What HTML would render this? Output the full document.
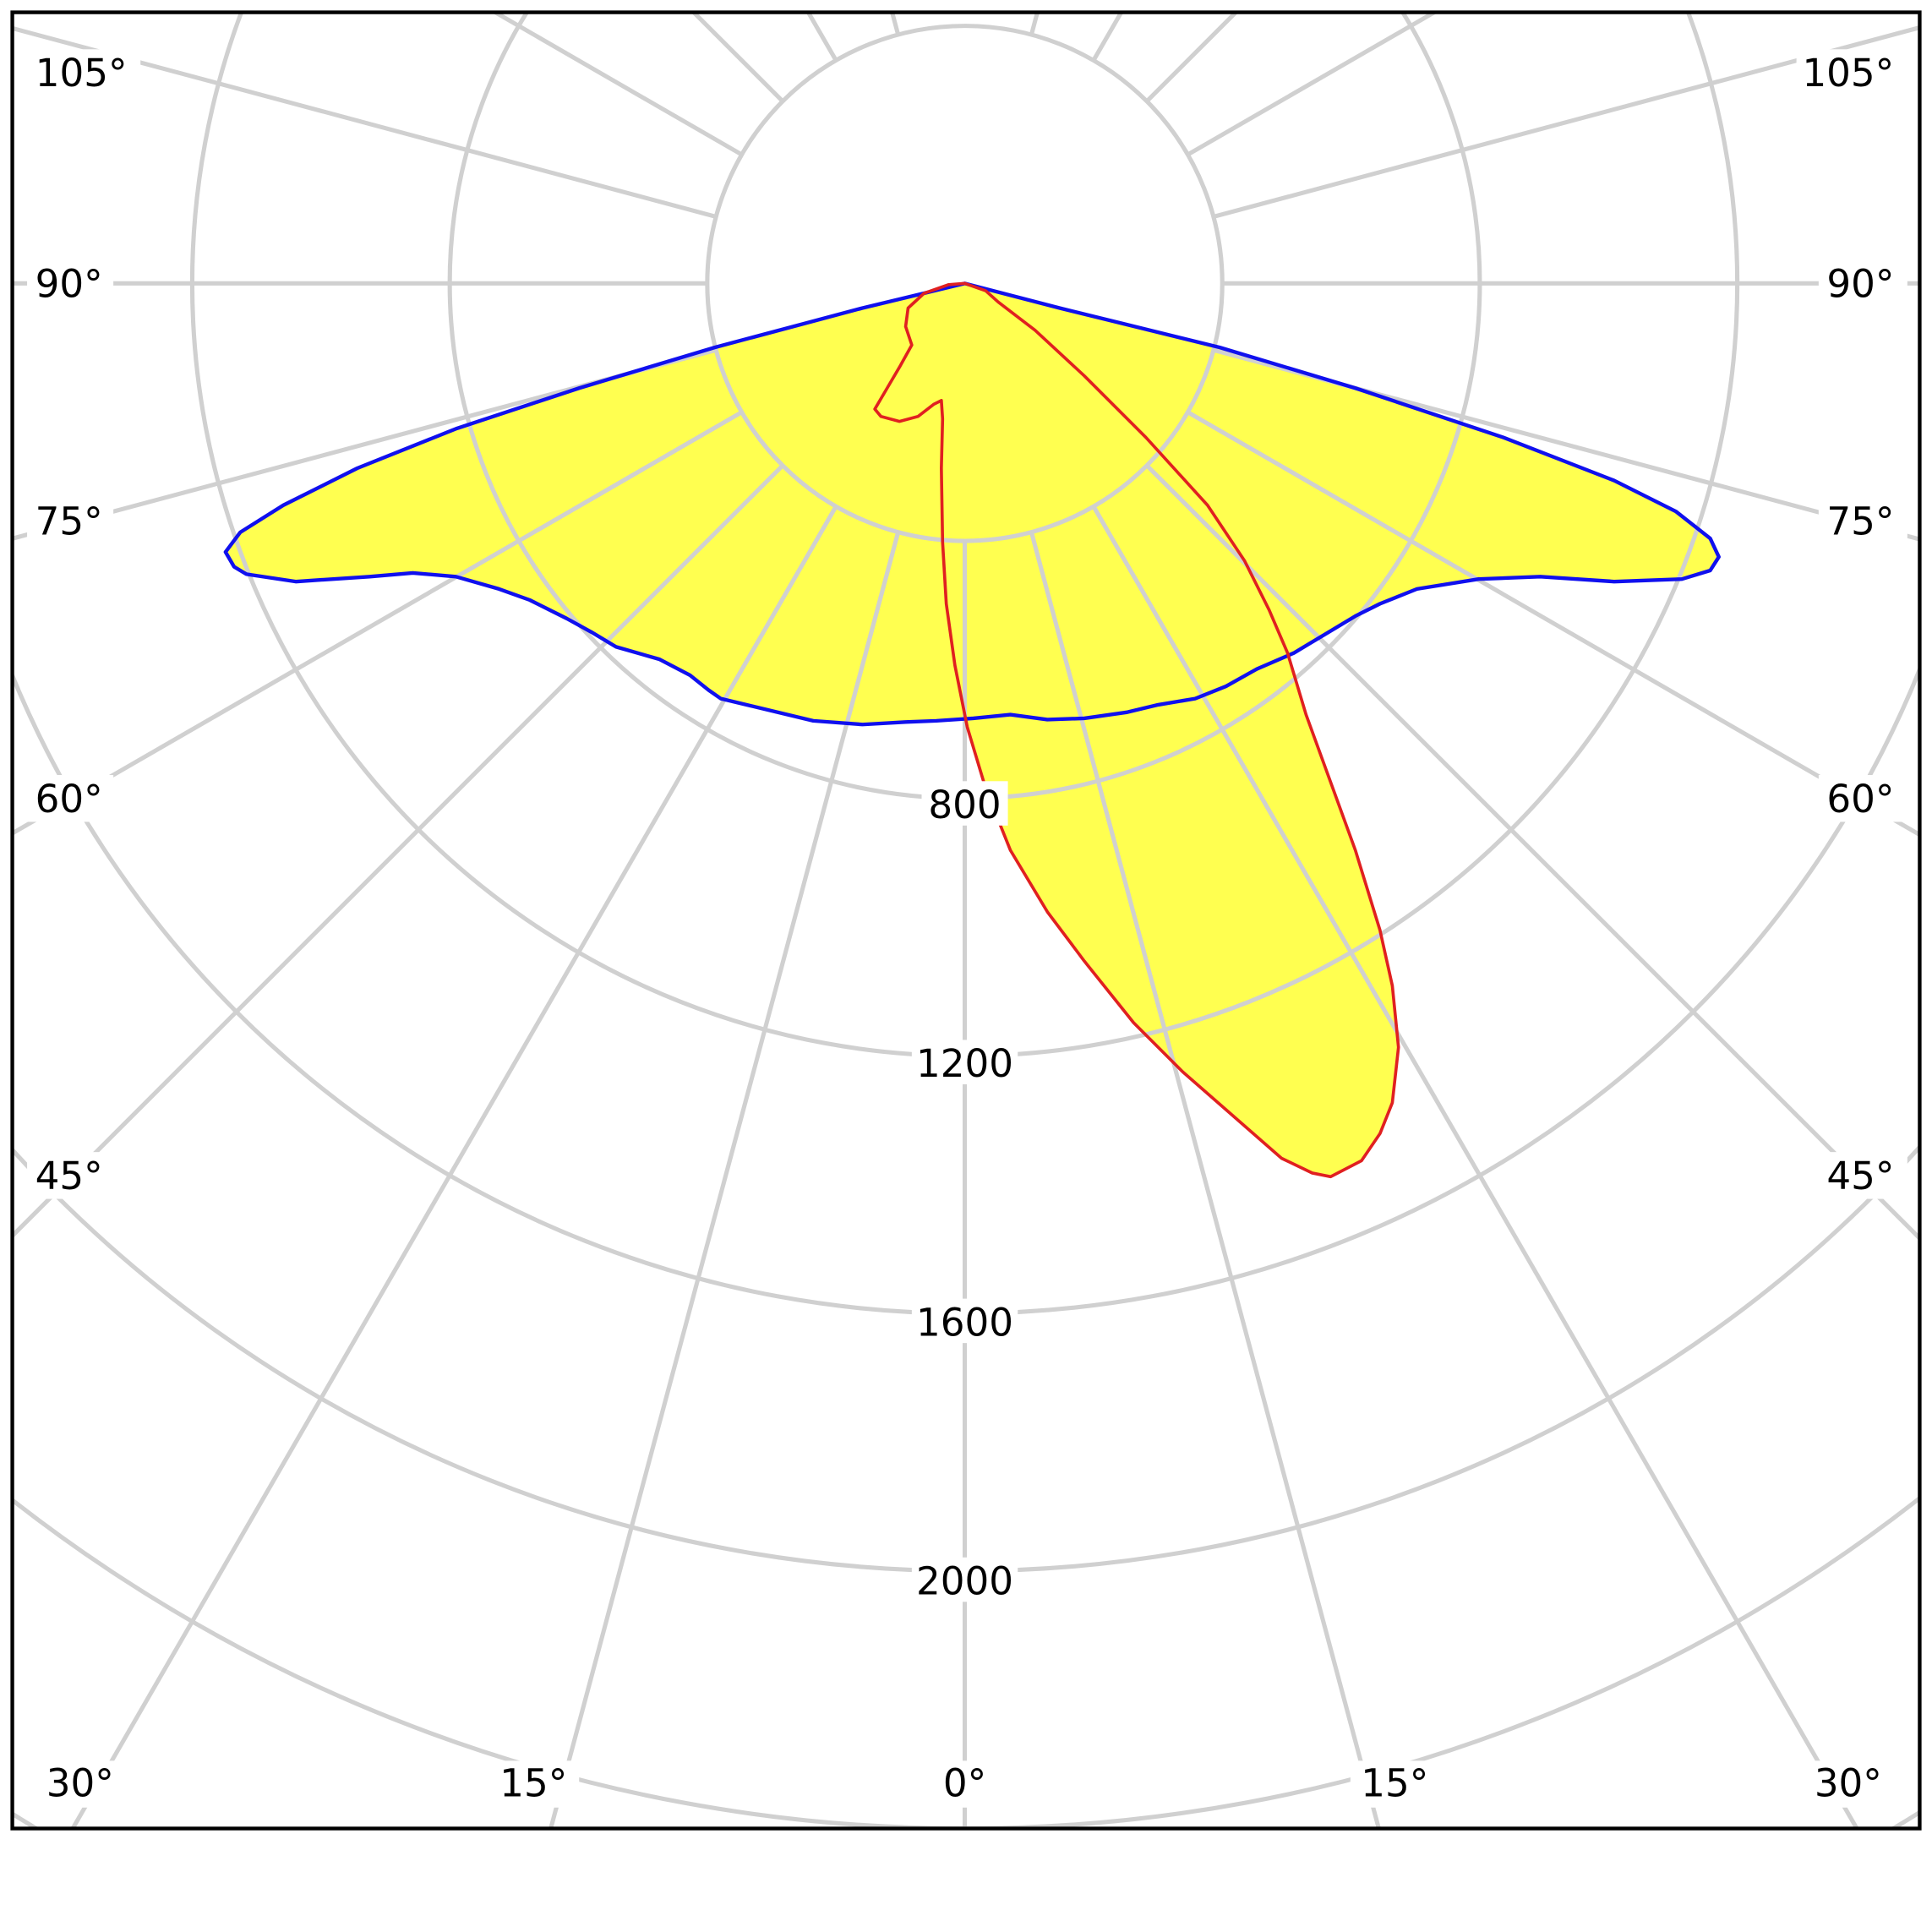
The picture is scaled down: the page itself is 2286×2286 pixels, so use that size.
<!DOCTYPE html>
<html><head><meta charset="utf-8"><style>html,body{margin:0;padding:0;background:#fff;overflow:hidden;width:2286px;height:2286px}svg{display:block}</style></head>
<body>
<svg width="2286" height="2286" viewBox="0 0 1568 1568" xmlns="http://www.w3.org/2000/svg" font-family="DejaVu Sans, Liberation Sans, sans-serif">
<defs><clipPath id="c"><rect x="10" y="10" width="1548" height="1474"/></clipPath></defs>
<rect width="1568" height="1568" fill="#fff"/>
<g fill="#ffff50" stroke="none">
<path id="b" d="M783,230 L860,250 990,282 1100,315 1220,355 1310,390 1360,415 1388,437 1395,452 1388,463 1365,470 1310,472 1250,468 1200,470 1150,478 1120,490 1100,500 1075,515 1050,530 1020,543 995,557 970,567 940,572 915,578 880,583 850,584 820,580 790,583 760,585 735,586 700,588 660,585 610,573 585,567 575,560 560,548 535,535 500,525 480,513 460,502 430,487 405,478 370,468 335,465 300,468 240,472 200,466 190,460 183,448 195,432 230,410 290,380 370,348 470,315 580,282 700,250 Z"/>
<path id="r" d="M783,230 L800,236 810,245 840,268 880,305 930,355 980,410 1010,455 1030,495 1045,530 1060,580 1080,635 1100,690 1120,755 1130,800 1135,850 1130,895 1120,920 1105,942 1080,955 1065,952 1040,940 1000,905 960,870 920,830 880,780 850,740 820,690 800,640 785,590 775,540 768,490 765,440 764,380 765,340 764,325 758,328 745,338 730,342 715,338 710,332 720,315 730,298 740,280 735,265 737,250 750,238 770,231 Z"/>
</g>
<g clip-path="url(#c)" stroke="#d0d0d0" stroke-width="3.5" fill="none">
<circle cx="783" cy="230" r="209"/>
<circle cx="783" cy="230" r="418"/>
<circle cx="783" cy="230" r="627"/>
<circle cx="783" cy="230" r="836"/>
<circle cx="783" cy="230" r="1045"/>
<circle cx="783" cy="230" r="1254"/>
<circle cx="783" cy="230" r="1463"/>
<line x1="783" y1="439" x2="783" y2="2000"/>
<line x1="783" y1="439" x2="783" y2="2000" transform="rotate(15 783 230)"/>
<line x1="783" y1="439" x2="783" y2="2000" transform="rotate(30 783 230)"/>
<line x1="783" y1="439" x2="783" y2="2000" transform="rotate(45 783 230)"/>
<line x1="783" y1="439" x2="783" y2="2000" transform="rotate(60 783 230)"/>
<line x1="783" y1="439" x2="783" y2="2000" transform="rotate(75 783 230)"/>
<line x1="783" y1="439" x2="783" y2="2000" transform="rotate(90 783 230)"/>
<line x1="783" y1="439" x2="783" y2="2000" transform="rotate(105 783 230)"/>
<line x1="783" y1="439" x2="783" y2="2000" transform="rotate(120 783 230)"/>
<line x1="783" y1="439" x2="783" y2="2000" transform="rotate(135 783 230)"/>
<line x1="783" y1="439" x2="783" y2="2000" transform="rotate(150 783 230)"/>
<line x1="783" y1="439" x2="783" y2="2000" transform="rotate(165 783 230)"/>
<line x1="783" y1="439" x2="783" y2="2000" transform="rotate(-15 783 230)"/>
<line x1="783" y1="439" x2="783" y2="2000" transform="rotate(-30 783 230)"/>
<line x1="783" y1="439" x2="783" y2="2000" transform="rotate(-45 783 230)"/>
<line x1="783" y1="439" x2="783" y2="2000" transform="rotate(-60 783 230)"/>
<line x1="783" y1="439" x2="783" y2="2000" transform="rotate(-75 783 230)"/>
<line x1="783" y1="439" x2="783" y2="2000" transform="rotate(-90 783 230)"/>
<line x1="783" y1="439" x2="783" y2="2000" transform="rotate(-105 783 230)"/>
<line x1="783" y1="439" x2="783" y2="2000" transform="rotate(-120 783 230)"/>
<line x1="783" y1="439" x2="783" y2="2000" transform="rotate(-135 783 230)"/>
<line x1="783" y1="439" x2="783" y2="2000" transform="rotate(-150 783 230)"/>
<line x1="783" y1="439" x2="783" y2="2000" transform="rotate(-165 783 230)"/>
</g>
<use href="#b" fill="none" stroke="#1010ee" stroke-width="3" stroke-linejoin="round"/>
<use href="#r" fill="none" stroke="#e02020" stroke-width="2.5" stroke-linejoin="round"/>
<g font-size="31" fill="#000" text-anchor="middle">
<g fill="#fff"><rect x="748" y="634" width="70" height="36"/><rect x="740" y="844" width="86" height="36"/><rect x="740" y="1054" width="86" height="36"/><rect x="740" y="1264" width="86" height="36"/></g>
<text x="783" y="664">800</text><text x="783" y="874">1200</text><text x="783" y="1084">1600</text><text x="783" y="1294">2000</text>
<g fill="#fff"><rect x="22" y="40" width="92" height="38"/><rect x="22" y="212" width="70" height="38"/><rect x="22" y="404" width="70" height="38"/><rect x="22" y="629" width="70" height="38"/><rect x="22" y="935" width="70" height="38"/>
<rect x="1458" y="40" width="92" height="38"/><rect x="1476" y="212" width="72" height="38"/><rect x="1476" y="404" width="72" height="38"/><rect x="1476" y="629" width="72" height="38"/><rect x="1476" y="935" width="72" height="38"/>
<rect x="30" y="1429" width="70" height="38"/><rect x="398" y="1429" width="72" height="38"/><rect x="758" y="1429" width="50" height="38"/><rect x="1096" y="1429" width="72" height="38"/><rect x="1464" y="1429" width="72" height="38"/></g>
<text x="66" y="70">105°</text><text x="56" y="241">90°</text><text x="56" y="434">75°</text><text x="56" y="659">60°</text><text x="56" y="965">45°</text>
<text x="1500" y="70">105°</text><text x="1510" y="241">90°</text><text x="1510" y="434">75°</text><text x="1510" y="659">60°</text><text x="1510" y="965">45°</text>
<text x="65" y="1458">30°</text><text x="433" y="1458">15°</text><text x="783" y="1458">0°</text><text x="1132" y="1458">15°</text><text x="1500" y="1458">30°</text>
</g>
<rect x="10" y="10" width="1548" height="1474" fill="none" stroke="#000" stroke-width="3"/>
</svg>
</body></html>
